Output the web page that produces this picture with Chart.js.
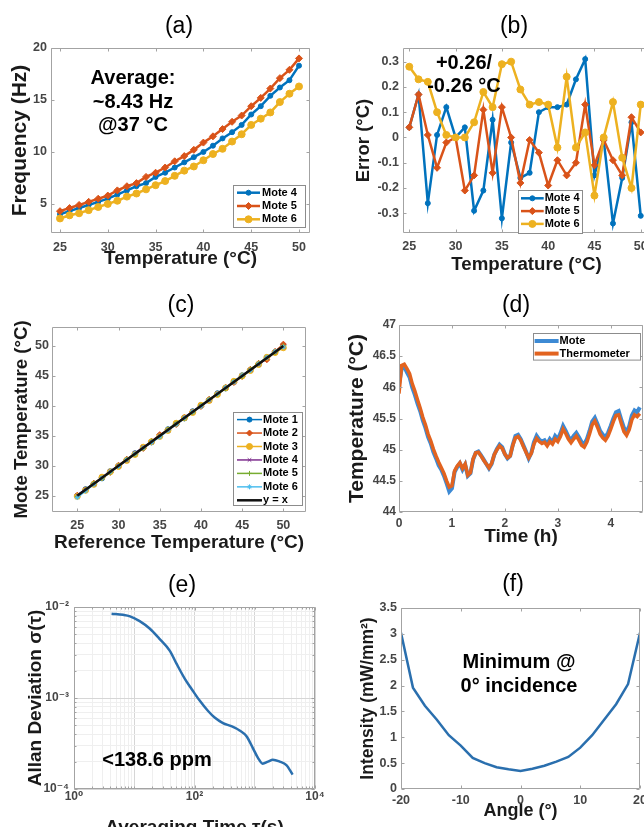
<!DOCTYPE html>
<html>
<head>
<meta charset="utf-8">
<script src="https://cdn.jsdelivr.net/npm/chart.js@4.4.1/dist/chart.umd.min.js"></script>
<style>
  html, body { margin: 0; padding: 0; background: #fff; }
  body { width: 644px; height: 827px; position: relative; overflow: hidden; font-family: 'Liberation Sans', Arial, sans-serif; }
  canvas { position: absolute; }
  .lbl { position: absolute; transform: translate(-50%, -50%); white-space: nowrap; z-index: 2; color: #000; }
  .panel { font-size: 23px; line-height: 23px; }
  .note { font-size: 20px; font-weight: bold; text-align: center; }
</style>
</head>
<body>
<canvas id="cA"></canvas>
<canvas id="cB"></canvas>
<canvas id="cC"></canvas>
<canvas id="cD"></canvas>
<canvas id="cE"></canvas>
<canvas id="cF"></canvas>

<div class="lbl panel" style="left:179px; top:25px">(a)</div>
<div class="lbl panel" style="left:514px; top:25px">(b)</div>
<div class="lbl panel" style="left:181px; top:304px">(c)</div>
<div class="lbl panel" style="left:516px; top:304px">(d)</div>
<div class="lbl panel" style="left:182px; top:584px">(e)</div>
<div class="lbl panel" style="left:513px; top:583px">(f)</div>

<div class="lbl note" style="left:133px; top:101px; line-height:23.5px">Average:<br>~8.43 Hz<br>@37 °C</div>
<div class="lbl note" style="left:464px; top:74px; line-height:23px">+0.26/<br>-0.26 °C</div>
<div class="lbl note" style="left:157px; top:759px; line-height:20px">&lt;138.6 ppm</div>
<div class="lbl note" style="left:519px; top:673px; line-height:24px">Minimum @<br>0° incidence</div>

<script>
// ---------- datos ----------
const tempC = [25, 26, 27, 28, 29, 30, 31, 32, 33, 34, 35, 36, 37, 38, 39, 40, 41, 42, 43, 44, 45, 46, 47, 48, 49, 50];
const tempTicks = [25, 30, 35, 40, 45, 50];

// (a) frecuencia
const freqMote4 = [4.0, 4.3, 4.6, 4.9, 5.2, 5.5, 5.9, 6.3, 6.7, 7.0, 7.6, 8.0, 8.5, 9.0, 9.5, 10.0, 10.6, 11.3, 11.9, 12.6, 13.6, 14.4, 15.4, 16.2, 16.9, 18.3];
const freqMote5 = [4.3, 4.6, 4.9, 5.2, 5.5, 5.8, 6.3, 6.7, 7.0, 7.6, 8.0, 8.5, 9.1, 9.6, 10.2, 10.9, 11.5, 12.2, 12.9, 13.5, 14.4, 15.2, 16.1, 17.1, 17.9, 19.0];
const freqMote6 = [3.6, 3.9, 4.1, 4.4, 4.7, 5.0, 5.3, 5.7, 6.0, 6.4, 6.8, 7.2, 7.7, 8.2, 8.6, 9.2, 9.8, 10.3, 11.0, 11.7, 12.6, 13.2, 13.8, 14.8, 15.6, 16.3];
const freqTicks = [5, 10, 15, 20];

// (b) error
const errMote4 = [0.04, 0.17, -0.26, 0.01, 0.12, 0.0, 0.04, -0.29, -0.21, 0.07, -0.32, -0.02, -0.16, -0.14, 0.10, 0.12, 0.12, 0.13, 0.23, 0.31, -0.15, -0.01, -0.34, -0.16, 0.06, -0.31];
const errMote5 = [0.04, 0.17, 0.01, -0.12, -0.02, 0.0, -0.21, -0.15, 0.11, -0.14, 0.12, 0.0, -0.18, -0.01, -0.06, -0.19, -0.09, -0.15, -0.10, 0.13, -0.11, -0.01, -0.09, -0.15, 0.08, 0.02];
const errMote6 = [0.28, 0.23, 0.22, 0.10, 0.01, 0.0, 0.0, 0.06, 0.18, 0.12, 0.29, 0.30, 0.19, 0.13, 0.14, 0.13, -0.04, 0.24, -0.04, 0.02, -0.23, 0.0, 0.14, -0.08, -0.20, 0.13];
const errTicks = [-0.3, -0.2, -0.1, 0, 0.1, 0.2, 0.3];

// (c) mote vs referencia
const refMote1 = [25.0, 26.1, 27.0, 27.9, 29.1, 30.0, 31.0, 32.1, 33.0, 33.9, 35.0, 36.1, 37.0, 37.9, 39.1, 40.0, 41.0, 42.1, 42.9, 44.0, 45.1, 46.0, 47.0, 47.9, 49.0, 50.1];
const refMote2 = [25.1, 26.0, 27.1, 28.0, 28.9, 30.1, 31.1, 32.0, 32.9, 34.1, 35.2, 36.0, 36.9, 38.1, 39.0, 39.9, 41.1, 42.0, 43.1, 43.9, 44.9, 46.1, 47.1, 47.7, 49.1, 50.3];
const refMote3 = [24.9, 25.9, 26.9, 28.1, 29.0, 29.9, 30.9, 31.9, 33.1, 34.0, 34.9, 35.9, 37.1, 38.0, 38.9, 40.1, 40.9, 41.9, 43.0, 44.1, 45.0, 45.9, 46.9, 48.1, 48.9, 49.7];
const refMote4 = [25.1, 26.1, 26.9, 28.0, 29.1, 30.0, 30.9, 32.1, 33.1, 34.0, 35.1, 35.9, 37.0, 38.1, 39.1, 40.0, 40.9, 42.1, 43.0, 43.9, 45.1, 46.0, 46.9, 48.0, 49.0, 49.9];
const refMote5 = [24.9, 26.0, 27.1, 27.9, 28.9, 30.0, 31.1, 31.9, 32.9, 34.1, 34.9, 36.1, 37.1, 37.9, 38.9, 40.1, 41.1, 41.9, 42.9, 44.1, 44.9, 46.1, 47.1, 48.1, 48.9, 50.0];
const refMote6 = [24.7, 25.8, 26.9, 28.0, 29.0, 29.9, 31.0, 32.0, 33.0, 33.9, 34.8, 35.9, 36.9, 38.0, 39.0, 39.9, 41.0, 42.0, 43.1, 44.0, 45.1, 45.9, 47.0, 48.1, 49.1, 49.8];
const identityX = [25, 50];

// (d) traza en el tiempo
const timeH = [0, 0.05, 0.1, 0.15, 0.2, 0.25, 0.3, 0.35, 0.4, 0.45, 0.5, 0.55, 0.6, 0.65, 0.7, 0.75, 0.8, 0.85, 0.9, 0.95,
  1, 1.05, 1.1, 1.15, 1.2, 1.25, 1.3, 1.35, 1.4, 1.45, 1.5, 1.55, 1.6, 1.65, 1.7, 1.75, 1.8, 1.85, 1.9, 1.95,
  2, 2.05, 2.1, 2.15, 2.2, 2.25, 2.3, 2.35, 2.4, 2.45, 2.5, 2.55, 2.6, 2.65, 2.7, 2.75, 2.8, 2.85, 2.9, 2.95,
  3, 3.05, 3.1, 3.15, 3.2, 3.25, 3.3, 3.35, 3.4, 3.45, 3.5, 3.55, 3.6, 3.65, 3.7, 3.75, 3.8, 3.85, 3.9, 3.95,
  4, 4.05, 4.1, 4.15, 4.2, 4.25, 4.3, 4.35, 4.4, 4.45, 4.5, 4.55];
const moteTrace = [46.05, 46.30, 46.33, 46.24, 46.16, 46.00, 45.88, 45.74, 45.62, 45.47, 45.35, 45.20, 45.10, 44.96, 44.86, 44.75, 44.68, 44.58, 44.46, 44.33,
  44.38, 44.64, 44.72, 44.78, 44.68, 44.76, 44.58, 44.62, 44.84, 44.95, 44.97, 44.91, 44.84, 44.77, 44.70, 44.77, 44.92, 45.01, 45.08, 45.04,
  44.93, 44.86, 44.90, 45.08, 45.22, 45.24, 45.17, 45.07, 44.97, 44.86, 44.95, 45.12, 45.22, 45.16, 45.13, 45.15, 45.09, 45.17, 45.12, 45.22,
  45.17, 45.26, 45.38, 45.30, 45.21, 45.15, 45.22, 45.27, 45.20, 45.12, 45.09, 45.17, 45.30, 45.45, 45.51, 45.41, 45.30, 45.24, 45.20, 45.27,
  45.38, 45.50, 45.60, 45.62, 45.48, 45.35, 45.28, 45.38, 45.55, 45.63, 45.60, 45.68];
const thermoTrace = [45.90, 46.35, 46.37, 46.30, 46.22, 46.06, 45.94, 45.80, 45.67, 45.52, 45.40, 45.25, 45.14, 45.01, 44.90, 44.80, 44.71, 44.62, 44.50, 44.40,
  44.42, 44.66, 44.74, 44.79, 44.70, 44.77, 44.59, 44.63, 44.85, 44.95, 44.96, 44.90, 44.83, 44.77, 44.71, 44.78, 44.92, 45.00, 45.06, 45.02,
  44.93, 44.87, 44.90, 45.07, 45.19, 45.21, 45.15, 45.05, 44.96, 44.87, 44.94, 45.09, 45.18, 45.13, 45.10, 45.12, 45.06, 45.13, 45.09, 45.17,
  45.13, 45.21, 45.33, 45.26, 45.17, 45.11, 45.17, 45.22, 45.15, 45.07, 45.04, 45.12, 45.25, 45.40, 45.46, 45.36, 45.25, 45.19, 45.15, 45.22,
  45.33, 45.45, 45.55, 45.56, 45.42, 45.29, 45.23, 45.32, 45.48, 45.56, 45.53, 45.58];
const timeTicks = [0, 1, 2, 3, 4];
const traceTicks = [44, 44.5, 45, 45.5, 46, 46.5, 47];

// (e) desviacion de Allan
const allanTau = [4.2, 6.5, 8.5, 12.3, 18, 26, 39, 50, 70, 90, 120, 168, 216, 297, 408, 560, 730, 935, 1130, 1350, 1660, 2000, 2600, 3350, 4250];
const allanDev = [0.00845, 0.0082, 0.0079, 0.0070, 0.0058, 0.0045, 0.0033, 0.0024, 0.0016, 0.00125, 0.00095, 0.00072, 0.00061, 0.00053, 0.00049, 0.00044, 0.00038, 0.00028, 0.00022, 0.00019, 0.00020, 0.00021, 0.00020, 0.000183, 0.000144];
const tauMajor = [1, 100, 10000];
const tauLabels = ['10⁰', '10²', '10⁴'];
const devMajor = [0.0001, 0.001, 0.01];
const devLabels = ['10⁻⁴', '10⁻³', '10⁻²'];

// (f) intensidad vs angulo
const angleDeg = [-20, -18, -16, -14, -12, -10, -8, -6, -4, -2, 0, 2, 4, 6, 8, 10, 12, 14, 16, 18, 20];
const intensity = [3.02, 1.96, 1.61, 1.34, 1.04, 0.84, 0.60, 0.50, 0.42, 0.38, 0.35, 0.39, 0.45, 0.53, 0.62, 0.80, 1.04, 1.34, 1.64, 2.03, 3.02];
const angleTicks = [-20, -10, 0, 10, 20];
const intensityTicks = [0, 0.5, 1, 1.5, 2, 2.5, 3, 3.5];

// ---------- estilo ----------
const BLUE = '#0072BD', RED = '#D95319', YELLOW = '#EDB120', PURPLE = '#7E2F8E', GREEN = '#77AC30', CYAN = '#4DBEEE';
const FONT = "'Liberation Sans', Arial, 'DejaVu Sans', sans-serif";
Chart.defaults.font.family = FONT;
Chart.defaults.animation = false;

// caja tipo matlab con marcas hacia adentro
const axesBox = {
  id: 'axesBox',
  afterDatasetsDraw(chart) {
    const { ctx, chartArea: a, scales } = chart;
    const l = Math.round(a.left) + 0.5, t = Math.round(a.top) + 0.5;
    const r = Math.round(a.right) - 0.5, b = Math.round(a.bottom) - 0.5;
    ctx.save();
    ctx.strokeStyle = '#a3a3a3';
    ctx.lineWidth = 1;
    ctx.beginPath();
    ctx.rect(l, t, r - l, b - t);
    scales.x.ticks.forEach(tk => {
      const p = Math.round(scales.x.getPixelForValue(tk.value)) + 0.5;
      const len = tk.label === '' ? 2 : 3;
      ctx.moveTo(p, b); ctx.lineTo(p, b - len);
      ctx.moveTo(p, t); ctx.lineTo(p, t + len);
    });
    scales.y.ticks.forEach(tk => {
      const p = Math.round(scales.y.getPixelForValue(tk.value)) + 0.5;
      const len = tk.label === '' ? 2 : 3;
      ctx.moveTo(l, p); ctx.lineTo(l + len, p);
      ctx.moveTo(r, p); ctx.lineTo(r - len, p);
    });
    ctx.stroke();
    ctx.restore();
  }
};

// leyenda dentro del area de la grafica
const insideLegend = {
  id: 'insideLegend',
  afterDraw(chart, args, o) {
    if (!o || !o.items) return;
    const { ctx, chartArea: a } = chart;
    const bx = Math.round(a.left + o.x), by = Math.round(a.top + o.y);
    ctx.save();
    ctx.fillStyle = '#fff';
    ctx.fillRect(bx, by, o.w, o.h);
    ctx.strokeStyle = '#8c8c8c';
    ctx.lineWidth = 1;
    ctx.strokeRect(bx + 0.5, by + 0.5, o.w, o.h);
    ctx.font = 'bold 11px ' + FONT;
    ctx.textBaseline = 'middle';
    ctx.textAlign = 'left';
    o.items.forEach((idx, k) => {
      const ds = chart.data.datasets[idx];
      const y = by + o.row0 + k * o.rowH;
      ctx.strokeStyle = ds.borderColor;
      ctx.lineWidth = o.lineW || ds.borderWidth;
      ctx.beginPath();
      ctx.moveTo(bx + o.line0, y);
      ctx.lineTo(bx + o.line1, y);
      ctx.stroke();
      if (ds.pointRadius > 0) {
        ctx.fillStyle = ds.borderColor;
        ctx.lineWidth = 1;
        Chart.helpers.drawPoint(ctx, { pointStyle: ds.pointStyle, radius: ds.pointRadius, rotation: 0, borderWidth: 1 }, bx + (o.line0 + o.line1) / 2, y);
      }
      ctx.fillStyle = '#000';
      ctx.fillText(ds.label, bx + o.text0, y);
    });
    ctx.restore();
  }
};
Chart.register(axesBox, insideLegend);

// ---------- helpers ----------
function placeCanvas(id, area, yTitleX, ySize, xTitleY, xSize) {
  const cv = document.getElementById(id);
  const x0 = Math.round(yTitleX - ySize * 0.6);
  const y0 = area.t - 14;
  const x1 = Math.round(area.r + 14);
  const y1 = Math.round(xTitleY + xSize * 0.6);
  cv.width = x1 - x0;
  cv.height = y1 - y0;
  cv.style.left = x0 + 'px';
  cv.style.top = y0 + 'px';
  return { padding: { left: 0, top: 14, right: x1 - area.r, bottom: 0 }, yWidth: area.l - x0, xHeight: y1 - area.b };
}

function linearAxis(min, max, tickValues, title, titleSize, fit, isX, tickSize, pad) {
  return {
    type: 'linear', min, max, bounds: 'data',
    afterBuildTicks: s => { s.ticks = tickValues.map(v => ({ value: v })); },
    afterFit: s => { if (isX) s.height = fit; else s.width = fit; },
    grid: { display: false, drawTicks: false },
    border: { display: false },
    ticks: { color: '#454545', font: { size: tickSize, weight: 'bold' }, padding: pad, maxRotation: 0, autoSkip: false, callback: v => String(v) },
    title: { display: true, text: title, color: '#1a1a1a', font: { size: titleSize, weight: 'bold' }, padding: 0 }
  };
}

function series(label, xs, ys, color, style, radius, width, order) {
  return {
    label,
    data: xs.map((x, i) => ({ x, y: ys[i] })),
    borderColor: color, backgroundColor: color,
    pointBackgroundColor: color, pointBorderColor: color,
    pointStyle: style, pointRadius: radius, pointBorderWidth: 1,
    borderWidth: width, tension: 0, fill: false, order
  };
}

function drawPanel(id, place, xAxis, yAxis, datasets, legendOpts) {
  return new Chart(document.getElementById(id), {
    type: 'line',
    data: { datasets },
    options: {
      responsive: false,
      animation: false,
      layout: { padding: place.padding },
      scales: { x: xAxis, y: yAxis },
      plugins: { legend: { display: false }, tooltip: { enabled: false }, insideLegend: legendOpts || {} }
    }
  });
}

// ---------- (a) ----------
const pA = placeCanvas('cA', { l: 51, t: 48, r: 310, b: 233 }, 21, 21, 259, 19);
drawPanel('cA', pA,
  linearAxis(24.06, 51.15, tempTicks, 'Temperature (°C)', 19, pA.xHeight, true, 12.5, 7),
  linearAxis(2.2, 20, freqTicks, 'Frequency (Hz)', 21, pA.yWidth, false, 12.5, 4),
  [
    series('Mote 4', tempC, freqMote4, BLUE, 'circle', 2.5, 2.5, 3),
    series('Mote 5', tempC, freqMote5, RED, 'rectRot', 3.5, 2.5, 2),
    series('Mote 6', tempC, freqMote6, YELLOW, 'circle', 3.5, 2.5, 1)
  ],
  { items: [0, 1, 2], x: 182, y: 137, w: 72, h: 42, row0: 7.7, rowH: 13.3, line0: 4, line1: 27, text0: 29 }
);

// ---------- (b) ----------
const pB = placeCanvas('cB', { l: 403, t: 48, r: 650, b: 233 }, 364, 18.5, 265, 18.7);
drawPanel('cB', pB,
  linearAxis(24.32, 51, tempTicks, 'Temperature (°C)', 18.7, pB.xHeight, true, 12.5, 6),
  linearAxis(-0.378, 0.354, errTicks, 'Error (°C)', 18.5, pB.yWidth, false, 12.5, 4),
  [
    series('Mote 4', tempC, errMote4, BLUE, 'circle', 2.5, 2.5, 3),
    series('Mote 5', tempC, errMote5, RED, 'rectRot', 3.5, 2.5, 2),
    series('Mote 6', tempC, errMote6, YELLOW, 'circle', 3.5, 2.5, 1)
  ],
  { items: [0, 1, 2], x: 115, y: 142, w: 64, h: 43, row0: 8.3, rowH: 12.8, line0: 3, line1: 25.7, text0: 26.7 }
);

// ---------- (c) ----------
const pC = placeCanvas('cC', { l: 52, t: 327, r: 306, b: 512 }, 22.5, 18.6, 543, 19);
drawPanel('cC', pC,
  linearAxis(21.93, 52.75, tempTicks, 'Reference Temperature (°C)', 19, pC.xHeight, true, 12.5, 6),
  linearAxis(22.29, 53.16, tempTicks, 'Mote Temperature (°C)', 18.6, pC.yWidth, false, 12.5, 3),
  [
    series('Mote 1', tempC, refMote1, BLUE, 'circle', 2.5, 1.5, 7),
    series('Mote 2', tempC, refMote2, RED, 'rectRot', 3, 1.5, 6),
    series('Mote 3', tempC, refMote3, YELLOW, 'circle', 3, 1.5, 5),
    series('Mote 4', tempC, refMote4, PURPLE, 'crossRot', 2.5, 1.5, 4),
    series('Mote 5', tempC, refMote5, GREEN, 'cross', 2.5, 1.5, 3),
    series('Mote 6', tempC, refMote6, CYAN, 'star', 2.5, 1.5, 2),
    series('y = x', identityX, identityX, '#111111', 'circle', 0, 2.5, 1)
  ],
  { items: [0, 1, 2, 3, 4, 5, 6], x: 181, y: 84.7, w: 69, h: 93, row0: 7.6, rowH: 13.45, line0: 4, line1: 29, text0: 30 }
);

// ---------- (d) ----------
const pD = placeCanvas('cD', { l: 399, t: 325, r: 643, b: 512 }, 358, 21, 537, 19);
drawPanel('cD', pD,
  linearAxis(0, 4.61, timeTicks, 'Time (h)', 19, pD.xHeight, true, 12, 4),
  linearAxis(44, 47, traceTicks, 'Temperature (°C)', 21, pD.yWidth, false, 12, 3),
  [
    series('Mote', timeH, moteTrace, '#3d8ad4', 'circle', 0, 4, 2),
    series('Thermometer', timeH, thermoTrace, '#e2631f', 'circle', 0, 3.5, 1)
  ],
  { items: [0, 1], x: 134.4, y: 7.7, w: 107, h: 26.6, row0: 8, rowH: 12.6, line0: 1.6, line1: 25.6, text0: 26.6, lineW: 4 }
);

// ---------- (e) ----------
function gridValues(fromExp, toExp) {
  const vals = [];
  for (let e = fromExp; e < toExp; e++) {
    for (let m = 1; m < 10; m++) vals.push(m * Math.pow(10, e));
  }
  vals.push(Math.pow(10, toExp));
  return vals;
}
const isDecade = v => Math.abs(Math.log10(v) - Math.round(Math.log10(v))) < 1e-9;
function logAxis(min, max, grid, majors, labels, title, titleSize, fit, isX, pad) {
  return {
    type: 'logarithmic', min, max, bounds: 'data',
    afterBuildTicks: s => { s.ticks = grid.map(v => ({ value: v })); },
    afterFit: s => { if (isX) s.height = fit; else s.width = fit; },
    grid: { display: true, drawTicks: false, color: c => (c.tick && isDecade(c.tick.value) ? '#d6d6d6' : '#efefef'), lineWidth: 1 },
    border: { display: false },
    ticks: {
      color: '#454545', font: { size: 12, weight: 'bold' }, padding: pad, maxRotation: 0, autoSkip: false,
      callback: v => {
        const i = majors.findIndex(m => Math.abs(Math.log10(m) - Math.log10(v)) < 1e-9);
        return i >= 0 ? labels[i] : '';
      }
    },
    title: { display: true, text: title, color: '#1a1a1a', font: { size: titleSize, weight: 'bold' }, padding: 0 }
  };
}
const pE = placeCanvas('cE', { l: 74, t: 607, r: 315, b: 789 }, 35.5, 19, 828, 19);
const allanSeries = series('Allan', allanTau, allanDev, '#2a6fae', 'circle', 0, 2.5, 1);
allanSeries.cubicInterpolationMode = 'monotone';
drawPanel('cE', pE,
  logAxis(1, 10000, gridValues(0, 4), tauMajor, tauLabels, 'Averaging Time τ(s)', 19, pE.xHeight, true, 0),
  logAxis(0.0001, 0.01, gridValues(-4, -2), devMajor, devLabels, 'Allan Deviation σ(τ)', 19, pE.yWidth, false, 5),
  [allanSeries]
);

// ---------- (f) ----------
const pF = placeCanvas('cF', { l: 401, t: 608, r: 640, b: 789 }, 368.4, 17.5, 811, 18);
drawPanel('cF', pF,
  linearAxis(-20, 20, angleTicks, 'Angle (°)', 18, pF.xHeight, true, 12.5, 4),
  linearAxis(0, 3.5, intensityTicks, 'Intensity (mW/mm²)', 17.5, pF.yWidth, false, 12.5, 4),
  [series('Intensity', angleDeg, intensity, '#2a6fae', 'circle', 0, 2.5, 1)]
);
</script>
</body>
</html>
